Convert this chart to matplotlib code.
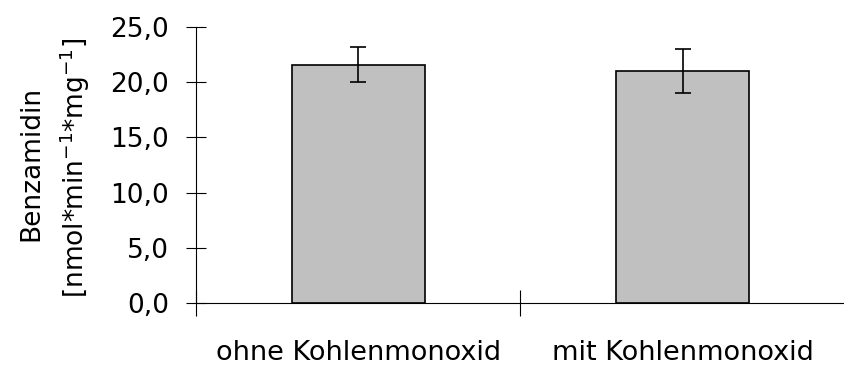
import matplotlib
matplotlib.use("Agg")
import matplotlib.pyplot as plt
from matplotlib.ticker import FuncFormatter

# data
categories = ["ohne Kohlenmonoxid", "mit Kohlenmonoxid"]
values = [21.6, 21.0]
errors = [1.55, 2.0]
yticks = [0, 5, 10, 15, 20, 25]

plt.rcParams['font.family'] = ['DejaVu Sans']
FS = 19

W, H = 845, 365
fig = plt.figure(figsize=(W / 100, H / 100), dpi=100)
ax = fig.add_axes([196 / W, 1 - 303 / H, 1 - 196 / W, (303 - 27) / H])

x = list(range(len(categories)))
ax.bar(x, values, width=0.41, color="#c0c0c0", edgecolor="black", linewidth=1.2, zorder=2)
ax.errorbar(x, values, yerr=errors, fmt="none", ecolor="black", elinewidth=1.2,
            capsize=5.5, capthick=1.2, zorder=3)

ax.set_ylim(0, 25)
ax.set_xlim(-0.5, 1.473)
ax.set_yticks(yticks)
ax.yaxis.set_major_formatter(FuncFormatter(lambda v, p: f"{v:.1f}".replace(".", ",")))
ax.tick_params(axis="y", direction="inout", length=14.5, width=0.8, labelsize=FS, pad=12)

# category boundary ticks, labels centred on bars
ax.set_xticks([-0.5, 0.5, 1.5])
ax.set_xticklabels([])
ax.set_xticks(x, minor=True)
ax.set_xticklabels(categories, minor=True)
ax.tick_params(axis="x", which="major", direction="inout", length=18.5, width=0.8)
ax.tick_params(axis="x", which="minor", length=0, labelsize=19.5, pad=27)

for s in ["top", "right"]:
    ax.spines[s].set_visible(False)
for s in ["left", "bottom"]:
    ax.spines[s].set_linewidth(0.8)

# two-line y label
fig.text(38 / W, 1 - 163 / H, "Benzamidin", fontsize=FS, rotation=90,
         rotation_mode="anchor", ha="center", va="baseline")
fig.text(84 / W, 1 - 168 / H, "[nmol*min$^{-1}$*mg$^{-1}$]", fontsize=FS, rotation=90,
         rotation_mode="anchor", ha="center", va="baseline")

fig.savefig("out.png", dpi=100)
